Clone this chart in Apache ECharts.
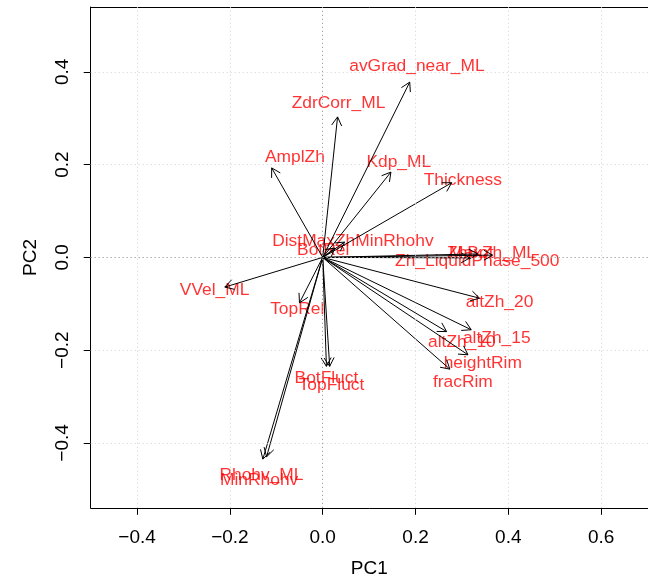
<!DOCTYPE html>
<html><head><meta charset="utf-8">
<script src="https://cdn.jsdelivr.net/npm/echarts@6/dist/echarts.min.js"></script>
<style>html,body{margin:0;padding:0;background:#fff}#c{width:648px;height:577px}</style>
</head><body><div id="c"></div>
<script>
const varNames = ["avGrad_near_ML","ZdrCorr_ML","AmplZh","Kdp_ML","Thickness","DistMaxZhMinRhohv","BotRel","ZhBot","MaxZh_ML","Zh_LiquidPhase_500","altZh_20","altZh_15","altZh_10","heightRim","fracRim","VVel_ML","TopRel","BotFluct","TopFluct","Rhohv_ML","MinRhohv"];
const pc1 = [0.1875,0.032,-0.110,0.147,0.278,0.047,0.026,0.334,0.366,0.317,0.338,0.320,0.267,0.313,0.274,-0.211,-0.050,0.008,0.015,-0.129,-0.121];
const pc2 = [0.378,0.303,0.193,0.184,0.161,0.033,0.020,0.0075,0.005,-0.001,-0.088,-0.156,-0.160,-0.210,-0.241,-0.064,-0.098,-0.235,-0.235,-0.435,-0.430];
const labX = [0.203,0.034,-0.060,0.164,0.302,0.065,0.001,0.318,0.366,0.333,0.381,0.375,0.300,0.345,0.302,-0.233,-0.055,0.008,0.019,-0.132,-0.137];
const labY = [0.413,0.333,0.217,0.206,0.167,0.036,0.015,0.008,0.008,-0.009,-0.096,-0.174,-0.182,-0.228,-0.269,-0.070,-0.112,-0.261,-0.275,-0.469,-0.480];
const xTicks = [-0.4,-0.2,0.0,0.2,0.4,0.6];
const yTicks = [-0.4,-0.2,0.0,0.2,0.4];
const xLabel = "PC1", yLabel = "PC2";

const chart = echarts.init(document.getElementById('c'), null, {renderer:'canvas'});
const fmt = v => (v < 0 ? '\u2212' : '') + Math.abs(v).toFixed(1);
const gridLineStyle = {color:'#d3d3d3', type:[1,3], width:1};
const FONT = 'Liberation Sans';
const option = {
  animation:false,
  grid:{left:90.7, top:7, right:0, bottom:69.2, show:false, containLabel:false, outerBoundsMode:'none'},
  xAxis:[{type:'value', min:-0.5, max:0.701, position:'bottom', name:xLabel, nameLocation:'middle', nameGap:51,
    nameTextStyle:{fontSize:19, color:'#000', fontFamily:FONT},
    axisLine:{show:true, onZero:false, lineStyle:{color:'#000', width:1}}, splitLine:{show:false},
    axisTick:{show:true, inside:false, length:7, lineStyle:{color:'#000'}, customValues:xTicks},
    axisLabel:{show:true, customValues:xTicks, formatter:fmt, fontSize:19, color:'#000', margin:20, fontFamily:FONT}},
   {type:'value', min:-0.5, max:0.701, position:'top',
    axisLine:{show:true, onZero:false, lineStyle:{color:'#000', width:1}}, splitLine:{show:false},
    axisTick:{show:false}, axisLabel:{show:false}}],
  yAxis:{type:'value', min:-0.54, max:0.54, position:'left', name:yLabel, nameLocation:'middle', nameGap:50,
    nameTextStyle:{fontSize:19, color:'#000', fontFamily:FONT},
    axisLine:{show:true, onZero:false, lineStyle:{color:'#000', width:1}}, splitLine:{show:false},
    axisTick:{show:true, inside:false, length:7, lineStyle:{color:'#000'}, customValues:yTicks},
    axisLabel:{show:true, customValues:yTicks, formatter:fmt, rotate:90, fontSize:19, color:'#000', margin:18, fontFamily:FONT}},
  series:[
    {type:'line', data:[], silent:true,
      markLine:{silent:true, symbol:'none', label:{show:false}, lineStyle:gridLineStyle,
        data: xTicks.map(v=>({xAxis:v})).concat(yTicks.map(v=>({yAxis:v})))}},
    {type:'line', data:[], silent:true,
      markLine:{silent:true, symbol:'none', label:{show:false}, lineStyle:{color:'#999', type:[1,3], width:1},
        data:[{xAxis:0},{yAxis:0}]}},
    {type:'scatter', symbolSize:0, silent:true, z:3,
      data: varNames.map((n,i)=>({name:n, value:[labX[i], labY[i]]})),
      label:{show:true, position:'inside', formatter:p=>p.name, color:'#ff0000', fontSize:17.4, fontFamily:FONT}},
    {type:'custom', z:4, silent:true,
      data: varNames.map((n,i)=>[pc1[i], pc2[i]]),
      renderItem:(params, api)=>{
        const o = api.coord([0,0]);
        const t = api.coord([api.value(0), api.value(1)]);
        const ang = Math.atan2(t[1]-o[1], t[0]-o[0]);
        const L = 10, a = Math.PI/6;
        const p1 = [t[0]-L*Math.cos(ang-a), t[1]-L*Math.sin(ang-a)];
        const p2 = [t[0]-L*Math.cos(ang+a), t[1]-L*Math.sin(ang+a)];
        return {type:'group', children:[
          {type:'line', shape:{x1:o[0],y1:o[1],x2:t[0],y2:t[1]}, style:{stroke:'#000', lineWidth:1}},
          {type:'polyline', shape:{points:[p1,t,p2]}, style:{stroke:'#000', fill:null, lineWidth:1}}
        ]};
      }}
  ]
};
chart.setOption(option);
</script></body></html>
